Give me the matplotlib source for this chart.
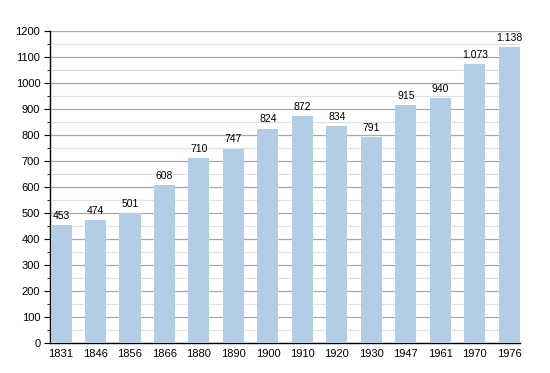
import matplotlib.pyplot as plt
from matplotlib.ticker import MultipleLocator

years = ["1831", "1846", "1856", "1866", "1880", "1890", "1900",
         "1910", "1920", "1930", "1947", "1961", "1970", "1976"]
population = [453, 474, 501, 608, 710, 747, 824, 872, 834, 791, 915, 940, 1073, 1138]

plt.rcParams["font.family"] = ["Liberation Sans", "DejaVu Sans"]

fig = plt.figure(figsize=(5.5, 3.73), dpi=100)
ax = fig.add_axes([0.0909, 0.0804, 0.854, 0.837])

x = range(len(years))
ax.bar(x, population, width=0.61, color="#b3cde6", zorder=3)

for xi, val in zip(x, population):
    label = f"{val:,}".replace(",", ".")
    ax.annotate(label, (xi, val), xytext=(0, 3), textcoords="offset points",
                ha="center", va="bottom", fontsize=7.5, zorder=4)

ax.set_xlim(-0.32, 13.3)
ax.set_ylim(0, 1200)
ax.set_xticks(list(x))
ax.set_xticklabels(years)
ax.yaxis.set_major_locator(MultipleLocator(100))
ax.yaxis.set_minor_locator(MultipleLocator(50))
ax.grid(axis="y", which="major", color="#a8a8a8", linewidth=0.9, zorder=1)
ax.grid(axis="y", which="minor", color="#e2e2e2", linewidth=0.9, zorder=1)

for side in ("top", "right"):
    ax.spines[side].set_visible(False)
ax.spines["left"].set_linewidth(1.0)
ax.spines["bottom"].set_linewidth(1.0)
ax.tick_params(axis="x", length=0, labelsize=8, pad=4)
ax.tick_params(axis="y", which="major", length=4, labelsize=8, pad=3)
ax.tick_params(axis="y", which="minor", length=2.5)

fig.savefig("out.png", dpi=100)
